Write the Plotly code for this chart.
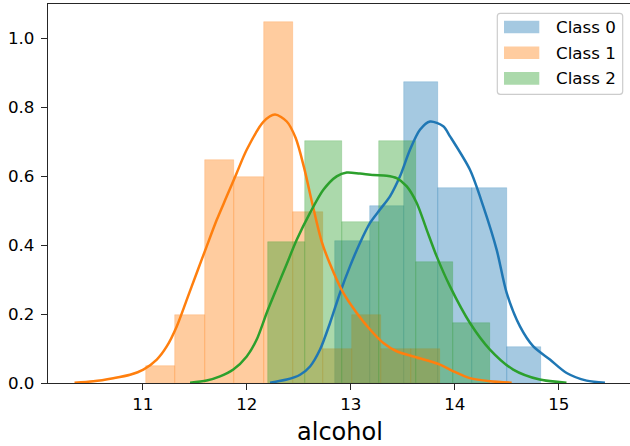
import numpy as np
import plotly.graph_objects as go

# ---------------- data ----------------
class_names = ["Class 0", "Class 1", "Class 2"]

# histogram (density) per class: data range and bar heights
c0_range = (12.85, 14.83)
c0_density = [0.411, 0.514, 0.873, 0.565, 0.565, 0.103]
c1_range = (11.03, 13.86)
c1_density = [0.049, 0.197, 0.646, 0.597, 1.046, 0.496, 0.098, 0.197, 0.098, 0.098]
c2_range = (12.20, 14.34)
c2_density = [0.409, 0.701, 0.467, 0.701, 0.350, 0.175]

# KDE curves
c0_kde_x = [12.223, 12.384, 12.512, 12.608, 12.704, 12.800, 12.896, 12.992, 13.088, 13.185,
            13.281, 13.377, 13.473, 13.569, 13.665, 13.762, 13.889, 13.954, 14.146, 14.274,
            14.403, 14.499, 14.627, 14.755, 14.915, 15.076, 15.268, 15.444]
c0_kde_y = [0.001, 0.010, 0.024, 0.048, 0.097, 0.174, 0.261, 0.338, 0.406, 0.464,
            0.503, 0.541, 0.599, 0.676, 0.734, 0.758, 0.744, 0.715, 0.618, 0.512,
            0.386, 0.261, 0.164, 0.106, 0.068, 0.029, 0.007, 0.001]

c1_kde_x = [10.343, 10.524, 10.716, 10.877, 11.005, 11.134, 11.230, 11.326, 11.422, 11.518,
            11.614, 11.711, 11.807, 11.903, 11.999, 12.159, 12.271, 12.384, 12.470, 12.550,
            12.630, 12.720, 12.800, 12.928, 13.057, 13.185, 13.313, 13.441, 13.601, 13.762,
            13.858, 13.986, 14.146, 14.338, 14.547]
c1_kde_y = [0.001, 0.005, 0.014, 0.024, 0.039, 0.068, 0.106, 0.164, 0.241, 0.319,
            0.396, 0.473, 0.541, 0.609, 0.676, 0.757, 0.778, 0.758, 0.710, 0.625,
            0.520, 0.410, 0.345, 0.261, 0.203, 0.155, 0.116, 0.092, 0.077, 0.063,
            0.053, 0.034, 0.014, 0.005, 0.001]

c2_kde_x = [11.454, 11.614, 11.742, 11.870, 11.999, 12.095, 12.191, 12.288, 12.384, 12.480,
            12.608, 12.736, 12.864, 12.961, 13.088, 13.216, 13.345, 13.441, 13.538, 13.634,
            13.730, 13.826, 13.954, 14.146, 14.338, 14.562, 14.817, 15.074]
c2_kde_y = [0.001, 0.007, 0.019, 0.039, 0.077, 0.126, 0.203, 0.275, 0.345, 0.415,
            0.493, 0.560, 0.599, 0.610, 0.607, 0.603, 0.601, 0.594, 0.570, 0.522,
            0.444, 0.367, 0.280, 0.174, 0.097, 0.039, 0.010, 0.001]

x_ticks = [11, 12, 13, 14, 15]
y_ticks = [0.0, 0.2, 0.4, 0.6, 0.8, 1.0]
x_label = "alcohol"

# ---------------- styling ----------------
rgb = [(31, 119, 180), (255, 127, 14), (44, 160, 44)]
FONT = "DejaVu Sans"
W, H = 630, 446
ML, MR, MT, MB = 48, 0, 4, 63
X_RANGE = [10.088, 15.685]
Y_RANGE = [0.0, 1.0986]

fig = go.Figure()

classes = [
    (c0_range, c0_density, c0_kde_x, c0_kde_y),
    (c1_range, c1_density, c1_kde_x, c1_kde_y),
    (c2_range, c2_density, c2_kde_x, c2_kde_y),
]

for i, (rng, dens, kx, ky) in enumerate(classes):
    r, g, b = rgb[i]
    edges = np.linspace(rng[0], rng[1], len(dens) + 1)
    centers = (edges[:-1] + edges[1:]) / 2
    width = edges[1] - edges[0]
    fig.add_trace(go.Bar(
        x=centers, y=dens, width=[width] * len(dens),
        marker=dict(color=f"rgba({r},{g},{b},0.4)",
                    line=dict(color=f"rgba({r},{g},{b},0.35)", width=0.6)),
        name=class_names[i], showlegend=False, hoverinfo="skip",
    ))
for i, (rng, dens, kx, ky) in enumerate(classes):
    r, g, b = rgb[i]
    fig.add_trace(go.Scatter(
        x=kx, y=ky, mode="lines",
        line=dict(color=f"rgb({r},{g},{b})", width=2.5, shape="spline", smoothing=0.8),
        showlegend=False, hoverinfo="skip",
    ))

# ---------------- manual legend (matplotlib style) ----------------
PW = W - ML - MR
PH = H - MT - MB


def px_x(px):
    return (px - ML) / PW


def px_y(py):
    return (H - MB - py) / PH


shapes = []
bx0, bx1, by0, by1 = 497.3, 622.7, 13.3, 94.3
rad = 3
p = (f"M {px_x(bx0 + rad)} {px_y(by0)} L {px_x(bx1 - rad)} {px_y(by0)} "
     f"Q {px_x(bx1)} {px_y(by0)} {px_x(bx1)} {px_y(by0 + rad)} "
     f"L {px_x(bx1)} {px_y(by1 - rad)} Q {px_x(bx1)} {px_y(by1)} {px_x(bx1 - rad)} {px_y(by1)} "
     f"L {px_x(bx0 + rad)} {px_y(by1)} Q {px_x(bx0)} {px_y(by1)} {px_x(bx0)} {px_y(by1 - rad)} "
     f"L {px_x(bx0)} {px_y(by0 + rad)} Q {px_x(bx0)} {px_y(by0)} {px_x(bx0 + rad)} {px_y(by0)} Z")
shapes.append(dict(type="path", xref="paper", yref="paper", path=p,
                   fillcolor="rgba(255,255,255,0.8)", line=dict(color="#cccccc", width=1.2)))
annotations = []
row_centers = [27.0, 52.8, 78.4]
for i, cy in enumerate(row_centers):
    r, g, b = rgb[i]
    shapes.append(dict(type="rect", xref="paper", yref="paper",
                       x0=px_x(504), x1=px_x(539.3), y0=px_y(cy + 6.3), y1=px_y(cy - 6.3),
                       fillcolor=f"rgba({r},{g},{b},0.4)", line=dict(width=0)))
    annotations.append(dict(xref="paper", yref="paper", x=px_x(553.5), y=px_y(cy),
                            xanchor="left", yanchor="middle", showarrow=False,
                            text=class_names[i], font=dict(family=FONT, size=16.7, color="black")))

annotations.append(dict(xref="paper", yref="paper", x=px_x(340), y=px_y(431.5),
                        xanchor="center", yanchor="middle", showarrow=False,
                        text=x_label, font=dict(family=FONT, size=24, color="black")))

axis_common = dict(showgrid=False, zeroline=False, showline=True, linecolor="#262626",
                   linewidth=1.3, ticks="outside", ticklen=6, tickwidth=1.3,
                   tickcolor="#262626", tickfont=dict(family=FONT, size=16.7, color="black"))

fig.update_layout(
    width=W, height=H,
    margin=dict(l=ML, r=MR, t=MT, b=MB, pad=0),
    paper_bgcolor="white", plot_bgcolor="white",
    barmode="overlay", bargap=0,
    showlegend=False,
    xaxis=dict(range=X_RANGE, tickvals=x_ticks, ticktext=[str(v) for v in x_ticks],
               mirror=True, **axis_common),
    yaxis=dict(range=Y_RANGE, tickvals=y_ticks, ticktext=[f"{v:.1f}" for v in y_ticks],
               mirror=False, ticklabelstandoff=3, **axis_common),
    shapes=shapes, annotations=annotations,
)

fig.write_html("out.html")
